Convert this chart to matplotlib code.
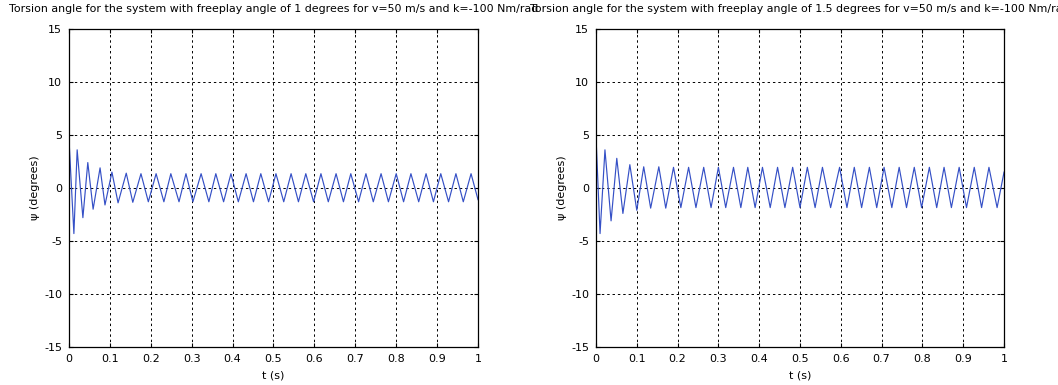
import matplotlib
matplotlib.use('Agg')
import matplotlib.pyplot as plt

# Torsion angle readings (extrema of the response), freeplay 1 deg
t_left = [0.0, 0.012, 0.020, 0.034, 0.046, 0.059, 0.076, 0.088, 0.105, 0.120,
          0.140, 0.156, 0.176, 0.194, 0.213, 0.232, 0.249, 0.269, 0.286, 0.303,
          0.323, 0.342, 0.359, 0.378, 0.396, 0.414, 0.433, 0.451, 0.469, 0.488,
          0.506, 0.525, 0.543, 0.561, 0.579, 0.598, 0.616, 0.634, 0.653, 0.671,
          0.689, 0.708, 0.726, 0.744, 0.763, 0.781, 0.800, 0.818, 0.836, 0.855,
          0.873, 0.891, 0.909, 0.928, 0.946, 0.964, 0.983, 1.0]
psi_left = [4.6, -4.3, 3.6, -2.8, 2.4, -2.0, 1.9, -1.6, 1.5, -1.4,
            1.4, -1.35, 1.35, -1.3, 1.35, -1.3, 1.35, -1.3, 1.35, -1.3,
            1.35, -1.3, 1.35, -1.3, 1.35, -1.3, 1.35, -1.3, 1.35, -1.3,
            1.35, -1.3, 1.35, -1.3, 1.35, -1.3, 1.35, -1.3, 1.35, -1.3,
            1.35, -1.3, 1.35, -1.3, 1.35, -1.3, 1.35, -1.3, 1.35, -1.3,
            1.35, -1.3, 1.35, -1.3, 1.35, -1.3, 1.35, -1.1]

# freeplay 1.5 deg
t_right = [0.0, 0.010, 0.022, 0.037, 0.051, 0.066, 0.083, 0.100, 0.117, 0.134,
           0.154, 0.171, 0.190, 0.208, 0.227, 0.245, 0.264, 0.282, 0.300, 0.318,
           0.337, 0.355, 0.372, 0.390, 0.408, 0.427, 0.445, 0.463, 0.482, 0.500,
           0.518, 0.537, 0.555, 0.575, 0.597, 0.615, 0.633, 0.651, 0.670, 0.688,
           0.706, 0.725, 0.743, 0.761, 0.780, 0.798, 0.817, 0.835, 0.853, 0.871,
           0.890, 0.908, 0.927, 0.945, 0.963, 0.983, 1.0]
psi_right = [4.9, -4.3, 3.6, -3.1, 2.8, -2.4, 2.2, -2.1, 2.0, -1.9,
             2.0, -1.9, 1.95, -1.85, 1.95, -1.85, 1.95, -1.85, 1.95, -1.85,
             1.95, -1.85, 1.95, -1.85, 1.95, -1.85, 1.95, -1.85, 1.95, -1.85,
             1.95, -1.85, 1.95, -1.85, 1.95, -1.85, 1.95, -1.85, 1.95, -1.85,
             1.95, -1.85, 1.95, -1.85, 1.95, -1.85, 1.95, -1.85, 1.95, -1.85,
             1.95, -1.85, 1.95, -1.85, 1.95, -1.85, 1.5]

titles = ['Torsion angle for the system with freeplay angle of 1 degrees for v=50 m/s and k=-100 Nm/rad',
          'Torsion angle for the system with freeplay angle of 1.5 degrees for v=50 m/s and k=-100 Nm/rad']
x_ticks = [0, 0.1, 0.2, 0.3, 0.4, 0.5, 0.6, 0.7, 0.8, 0.9, 1]
x_labels = ['0', '0.1', '0.2', '0.3', '0.4', '0.5', '0.6', '0.7', '0.8', '0.9', '1']
y_ticks = [-15, -10, -5, 0, 5, 10, 15]

plt.rcParams['font.family'] = ['DejaVu Sans']
plt.rcParams['font.size'] = 8
plt.rcParams['axes.unicode_minus'] = False

fig = plt.figure(figsize=(10.58, 3.85), dpi=100)
ax1 = fig.add_axes([0.0652, 0.0987, 0.3866, 0.826])
ax2 = fig.add_axes([0.5633, 0.0987, 0.3857, 0.826])

for ax, t, psi, title in [(ax1, t_left, psi_left, titles[0]),
                          (ax2, t_right, psi_right, titles[1])]:
    ax.plot(t, psi, color='#3550c6', linewidth=0.85, solid_joinstyle='round')
    ax.set_xlim(0, 1)
    ax.set_ylim(-15, 15)
    ax.set_xticks(x_ticks)
    ax.set_xticklabels(x_labels)
    ax.set_yticks(y_ticks)
    ax.grid(True, color='black', linestyle=(0, (2.5, 3)), linewidth=0.7)
    ax.tick_params(direction='in', length=3, top=True, right=True)
    ax.tick_params(axis='x', pad=5)
    ax.tick_params(axis='y', pad=5)
    for s in ax.spines.values():
        s.set_linewidth(0.9)
    ax.set_xlabel('t (s)', labelpad=5)
    ax.set_ylabel('ψ (degrees)', labelpad=3)
    ax.set_title(title, fontsize=7.9, pad=12)

fig.savefig('out.png', dpi=100)
